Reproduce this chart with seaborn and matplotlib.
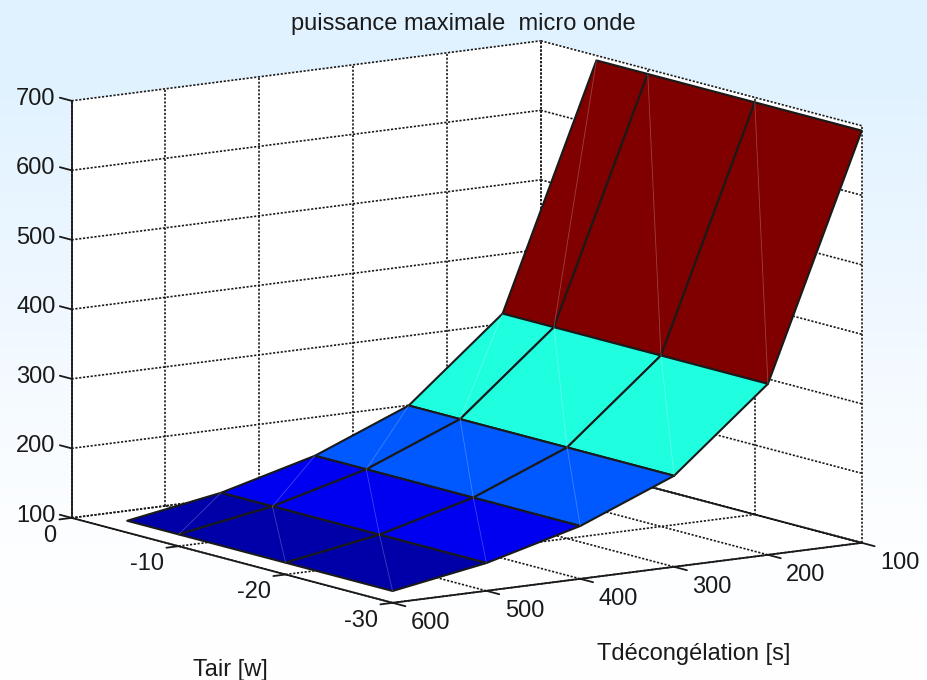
import numpy as np
import matplotlib
matplotlib.use("Agg")
import matplotlib.pyplot as plt
import seaborn as sns
from matplotlib.colors import to_rgb
from mpl_toolkits.mplot3d import proj3d

### values
tair_values = [-5.2, -10, -20, -30]
tdec_values = [600, 500, 400, 300, 200, 100]
power_values = [117, 140, 176, 231, 346, 693]
band_colors = ["#0000A8", "#0000F0", "#0058FF", "#1FFFE0", "#800000"]

tair_ticks = [0, -10, -20, -30]
tdec_ticks = [600, 500, 400, 300, 200, 100]
power_ticks = [100, 200, 300, 400, 500, 600, 700]

bg_stops = [0.0, 0.1, 0.4, 0.6, 0.8, 1.0]
bg_colors = ["#E0F2FF", "#E0F2FF", "#EDF7FF", "#F6FBFF", "#FDFEFF", "#FFFFFF"]

sns.set_theme(style="white")
plt.rcParams['font.family'] = ['Liberation Sans', 'DejaVu Sans']
FS = 17
DOT = (0, (1.3, 1.0))

fig = plt.figure(figsize=(9.28, 6.8), dpi=100)

### background gradient
bg = fig.add_axes([0, 0, 1, 1], zorder=-1)
rows = np.linspace(0, 1, 340)
grad = np.stack([np.interp(rows, bg_stops, [to_rgb(c)[i] for c in bg_colors]) for i in range(3)], axis=1)
bg.imshow(grad[:, None, :], aspect='auto')
bg.set_axis_off()

### 3D axes, square box placed so the cube lands where the original has it
W = 680
ax = fig.add_axes([117.5 / 928, 9 / 680, W / 928, W / 680], projection='3d', computed_zorder=False)
ax.set_proj_type('ortho')
ax.view_init(elev=10.6, azim=-34.8)
ax.set_box_aspect((562, 571, 424), zoom=1.295)
ax.set_xlim(0, -30)
ax.set_ylim(600, 100)
ax.set_zlim(100, 700)
ax.set_axis_off()
ax.patch.set_alpha(0)

x0, x1 = tair_ticks[0], tair_ticks[-1]
y0, y1 = tdec_ticks[0], tdec_ticks[-1]
z0, z1 = power_ticks[0], power_ticks[-1]

def label3d(x, y, z, s, **kw):
    ### place a flat text at the projected spot of a 3D point
    px, py, _ = proj3d.proj_transform(x, y, z, ax.get_proj())
    ax.text2D(px, py, s, transform=ax.transData, fontsize=FS, color='k', va='center', clip_on=False, **kw)

### white walls and floor
wy, wz = np.meshgrid([y0, y1], [z0, z1])
walls = [ax.plot_surface(np.full_like(wy, x0), wy, wz, color='white', shade=False, zorder=0)]
wx, wz = np.meshgrid([x0, x1], [z0, z1])
walls.append(ax.plot_surface(wx, np.full_like(wx, y1), wz, color='white', shade=False, zorder=0))
wx, wy = np.meshgrid([x0, x1], [y0, y1])
walls.append(ax.plot_surface(wx, wy, np.full_like(wx, z0), color='white', shade=False, zorder=0))
for w in walls:
    w.set_clip_on(False)

### dotted grid
grid = dict(color='k', lw=1.2, ls=DOT, zorder=1, clip_on=False)
for z in power_ticks:
    ax.plot([x0, x0], [y0, y1], [z, z], **grid)
    ax.plot([x0, x1], [y1, y1], [z, z], **grid)
for y in tdec_ticks:
    ax.plot([x0, x0], [y, y], [z0, z1], **grid)
    ax.plot([x0, x1], [y, y], [z0, z0], **grid)
for x in tair_ticks:
    ax.plot([x, x], [y1, y1], [z0, z1], **grid)
    ax.plot([x, x], [y0, y1], [z0, z0], **grid)

### solid axis lines and ticks
axis = dict(color='k', lw=1.3, zorder=2, clip_on=False)
ax.plot([x0, x0], [y0, y0], [z0, z1], **axis)
ax.plot([x0, x1], [y0, y0], [z0, z0], **axis)
ax.plot([x1, x1], [y0, y1], [z0, z0], **axis)
ax.plot([x0, x1], [y1, y1], [z0, z0], **axis)
for z in power_ticks:
    ax.plot([x0, x0 + 1.1], [y0, y0], [z, z], **axis)
    label3d(x0 + 1.5, y0, z - 3, str(z), ha='right')
for x in tair_ticks:
    ax.plot([x, x], [y0, y0 + 13], [z0, z0], **axis)
    label3d(x, y0 + 16, z0 - 23, str(x), ha='right')
for y in tdec_ticks:
    ax.plot([x1, x1 - 1.2], [y, y], [z0, z0], **axis)
    label3d(x1 - 3.55, y, z0 - 14.6, str(y), ha='center')

### surface, one flat colour per time band
X, Y = np.meshgrid(tair_values, tdec_values)
Z = np.tile(np.array(power_values)[:, None], (1, len(tair_values)))
palette = sns.color_palette(band_colors)
face = np.array([[c + (1.0,)] * (len(tair_values) - 1) for c in palette])
surf = ax.plot_surface(X, Y, Z, rstride=1, cstride=1, facecolors=face, shade=False, zorder=3)
surf.set_edgecolor('k')
surf.set_linewidth(1.5)
surf.set_clip_on(False)

### faint seams of the triangulated faces
for i in range(1, len(tair_values)):
    for j in range(len(tdec_values) - 1):
        ax.plot([tair_values[i], tair_values[i - 1]], [tdec_values[j], tdec_values[j + 1]],
                [power_values[j], power_values[j + 1]], color='white', lw=0.6, alpha=0.25, zorder=4, clip_on=False)

fig.text(463 / 928, 1 - 24 / 680, "puissance maximale  micro onde", ha='center', va='center', fontsize=FS, color='k')
fig.text(230 / 928, 1 - 670 / 680, "Tair [w]", ha='center', va='center', fontsize=FS, color='k')
fig.text(694 / 928, 1 - 654 / 680, "Tdécongélation [s]", ha='center', va='center', fontsize=FS, color='k')

fig.savefig("out.png", dpi=100)
